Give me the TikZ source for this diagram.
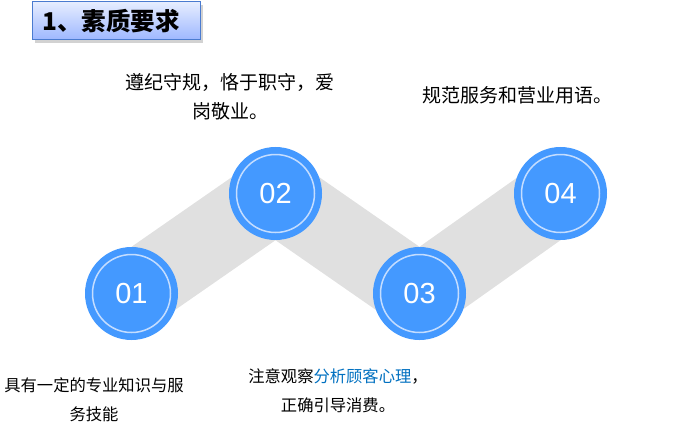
\documentclass[tikz,border=0pt]{standalone}
\usepackage{fontspec}
\setmainfont{Liberation Sans}
\newfontfamily\cjk{Noto Sans CJK SC}
\usetikzlibrary{backgrounds,shadows}

\definecolor{stepblue}{HTML}{4499FF}
\definecolor{ringblue}{HTML}{C4DDFF}
\definecolor{bandgray}{HTML}{E0E0E0}
\definecolor{keyblue}{HTML}{0070C0}
\definecolor{titleline}{HTML}{4A7BD0}
\definecolor{titletop}{HTML}{E6EDFF}
\definecolor{titlebot}{HTML}{9DB7FF}

\begin{document}
\begin{tikzpicture}[x=1pt,y=-1pt,
  titlebox/.style={draw=titleline,line width=1pt,top color=titletop,bottom color=titlebot,
    minimum height=38pt,text width=148pt,inner xsep=10pt,align=left,
    drop shadow={shadow xshift=2pt,shadow yshift=-3pt,fill=black!35},
    font=\cjk\bfseries\fontsize{24.5}{24.5}\selectfont},
  stepcircle/.style={circle,fill=stepblue,minimum size=93pt,inner sep=0pt,
    text=white,font=\fontsize{29}{29}\selectfont},
  ring/.style={draw=ringblue,line width=1.5pt},
  band/.style={fill=bandgray},
  topnote/.style={align=center,font=\cjk\fontsize{19}{29}\selectfont},
  lownote/.style={align=center,font=\cjk\fontsize{16.3}{29}\selectfont}]
  \useasboundingbox (0,0) rectangle (687,436);

  % title
  \node[titlebox,anchor=west] (title) at (32,21) {1、素质要求};

  % steps
  \foreach \n/\x/\y in {1/131.5/293.5,2/275.5/193.5,3/419.5/293.5,4/560.5/193.5} {
    \node[stepcircle] (c\n) at (\x,\y) {0\n};
    \draw[ring] (c\n.center) circle (39pt);
  }
  \begin{scope}[on background layer]
    \foreach \a/\b in {1/2,2/3,3/4}
      \fill[band] (c\a.north) -- (c\b.north) -- (c\b.south) -- (c\a.south) -- cycle;
  \end{scope}

  % notes
  \node[topnote] (t2) at (230,96.5) {遵纪守规，恪于职守，爱\\岗敬业。};
  \node[topnote] (t4) at (517,95) {规范服务和营业用语。};
  \node[lownote] (t1) at (94,400) {具有一定的专业知识与服\\务技能};
  \node[lownote] (t3) at (338,390.5) {注意观察\textcolor{keyblue}{分析顾客心理}，\\正确引导消费。};
\end{tikzpicture}
\end{document}
